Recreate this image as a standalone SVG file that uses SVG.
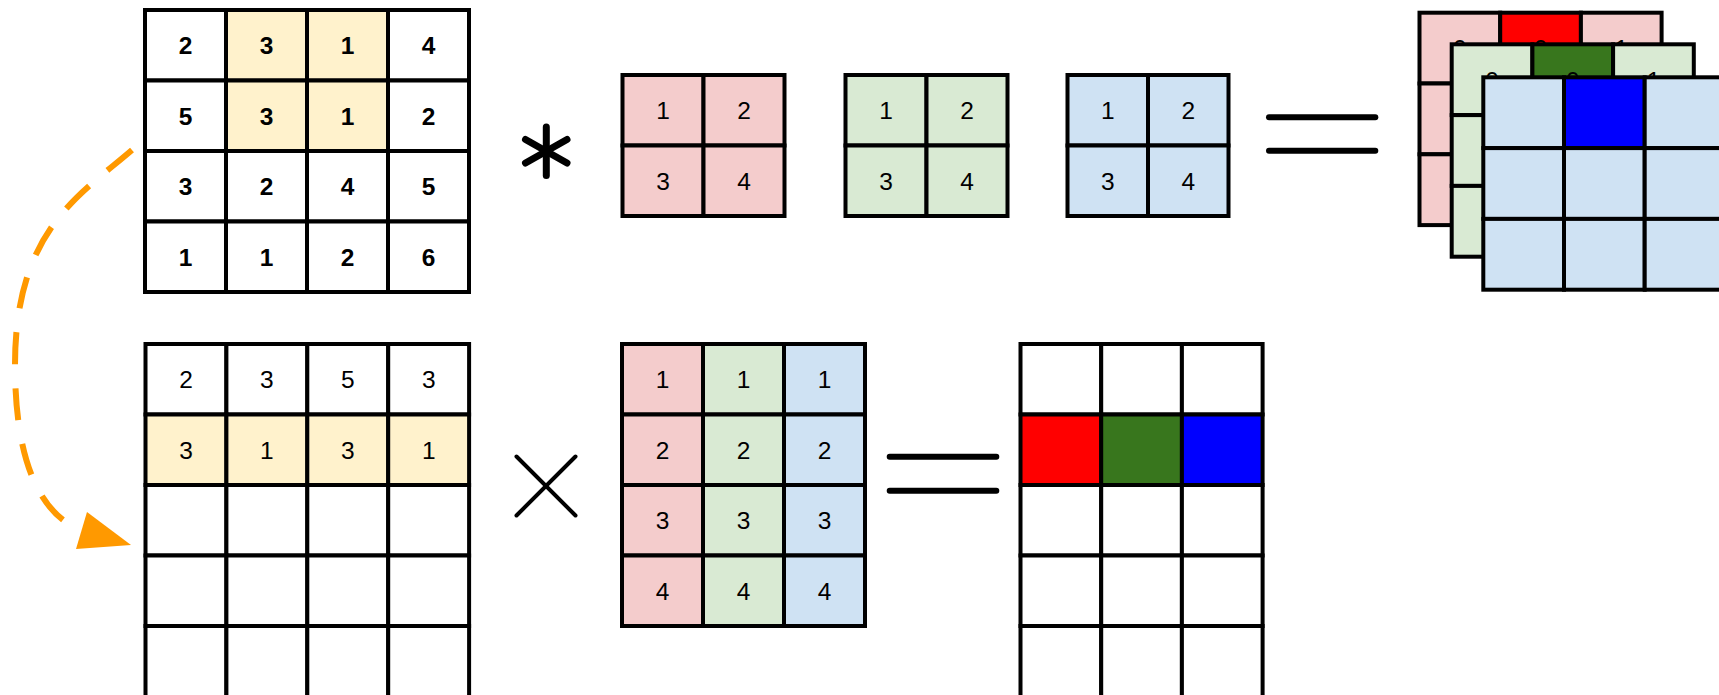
<svg xmlns="http://www.w3.org/2000/svg" width="1719" height="695" viewBox="0 0 1719 695">
<style>
g rect{stroke:#000;stroke-width:4}
.w{fill:#fff}.y{fill:#FFF2CC}.r{fill:#F4CCCC}.g{fill:#D9EAD3}.b{fill:#CFE2F3}
.R{fill:#FF0000}.G{fill:#38761D}.B{fill:#0000FF}
text{font-family:"Liberation Sans",Arial,sans-serif;font-size:24.5px;text-anchor:middle;fill:#000}
text.bd{font-weight:bold;font-size:24.5px}
.sym{stroke:#000;stroke-linecap:round;fill:none}
</style>
<rect x="0" y="0" width="1719" height="695" style="fill:#fff;stroke:none"/>

<g id="input-grid">
<rect class="w" x="145" y="10" width="81" height="70.5"/><rect class="y" x="226" y="10" width="81" height="70.5"/><rect class="y" x="307" y="10" width="81" height="70.5"/><rect class="w" x="388" y="10" width="81" height="70.5"/>
<rect class="w" x="145" y="80.5" width="81" height="70.5"/><rect class="y" x="226" y="80.5" width="81" height="70.5"/><rect class="y" x="307" y="80.5" width="81" height="70.5"/><rect class="w" x="388" y="80.5" width="81" height="70.5"/>
<rect class="w" x="145" y="151" width="81" height="70.5"/><rect class="w" x="226" y="151" width="81" height="70.5"/><rect class="w" x="307" y="151" width="81" height="70.5"/><rect class="w" x="388" y="151" width="81" height="70.5"/>
<rect class="w" x="145" y="221.5" width="81" height="70.5"/><rect class="w" x="226" y="221.5" width="81" height="70.5"/><rect class="w" x="307" y="221.5" width="81" height="70.5"/><rect class="w" x="388" y="221.5" width="81" height="70.5"/>
<text class="bd" x="185.5" y="54.3">2</text><text class="bd" x="266.5" y="54.3">3</text><text class="bd" x="347.5" y="54.3">1</text><text class="bd" x="428.5" y="54.3">4</text>
<text class="bd" x="185.5" y="124.8">5</text><text class="bd" x="266.5" y="124.8">3</text><text class="bd" x="347.5" y="124.8">1</text><text class="bd" x="428.5" y="124.8">2</text>
<text class="bd" x="185.5" y="195.3">3</text><text class="bd" x="266.5" y="195.3">2</text><text class="bd" x="347.5" y="195.3">4</text><text class="bd" x="428.5" y="195.3">5</text>
<text class="bd" x="185.5" y="265.8">1</text><text class="bd" x="266.5" y="265.8">1</text><text class="bd" x="347.5" y="265.8">2</text><text class="bd" x="428.5" y="265.8">6</text>
</g>

<g id="conv-symbol">
<line class="sym" stroke-width="7" x1="546.3" y1="127" x2="546.3" y2="175.5"/>
<line class="sym" stroke-width="7" x1="525.5" y1="139.5" x2="567" y2="163"/>
<line class="sym" stroke-width="7" x1="567" y1="139.5" x2="525.5" y2="163"/>
</g>

<g id="kernel-red">
<rect class="r" x="622.5" y="75" width="81" height="70.5"/><rect class="r" x="703.5" y="75" width="81" height="70.5"/>
<rect class="r" x="622.5" y="145.5" width="81" height="70.5"/><rect class="r" x="703.5" y="145.5" width="81" height="70.5"/>
<text x="663" y="119.3">1</text><text x="744" y="119.3">2</text><text x="663" y="189.8">3</text><text x="744" y="189.8">4</text>
</g>
<g id="kernel-green">
<rect class="g" x="845.5" y="75" width="81" height="70.5"/><rect class="g" x="926.5" y="75" width="81" height="70.5"/>
<rect class="g" x="845.5" y="145.5" width="81" height="70.5"/><rect class="g" x="926.5" y="145.5" width="81" height="70.5"/>
<text x="886" y="119.3">1</text><text x="967" y="119.3">2</text><text x="886" y="189.8">3</text><text x="967" y="189.8">4</text>
</g>
<g id="kernel-blue">
<rect class="b" x="1067.5" y="75" width="80.5" height="70.5"/><rect class="b" x="1148" y="75" width="80.5" height="70.5"/>
<rect class="b" x="1067.5" y="145.5" width="80.5" height="70.5"/><rect class="b" x="1148" y="145.5" width="80.5" height="70.5"/>
<text x="1107.8" y="119.3">1</text><text x="1188.3" y="119.3">2</text><text x="1107.8" y="189.8">3</text><text x="1188.3" y="189.8">4</text>
</g>

<g id="equals-top">
<line class="sym" stroke-width="6" x1="1269" y1="117.3" x2="1375.3" y2="117.3"/>
<line class="sym" stroke-width="6" x1="1269" y1="150.7" x2="1375.3" y2="150.7"/>
</g>

<g id="output-red">
<rect class="r" x="1419.5" y="12.7" width="80.7" height="70.8"/><rect class="R" x="1500.2" y="12.7" width="80.7" height="70.8"/><rect class="r" x="1580.9" y="12.7" width="80.7" height="70.8"/>
<rect class="r" x="1419.5" y="83.5" width="80.7" height="70.8"/><rect class="r" x="1500.2" y="83.5" width="80.7" height="70.8"/><rect class="r" x="1580.9" y="83.5" width="80.7" height="70.8"/>
<rect class="r" x="1419.5" y="154.3" width="80.7" height="70.8"/><rect class="r" x="1500.2" y="154.3" width="80.7" height="70.8"/><rect class="r" x="1580.9" y="154.3" width="80.7" height="70.8"/>
<text x="1459.9" y="57">0</text><text x="1540.6" y="57">0</text><text x="1621.3" y="57">1</text>
</g>
<g id="output-green">
<rect class="g" x="1451.7" y="44.3" width="80.7" height="70.8"/><rect class="G" x="1532.4" y="44.3" width="80.7" height="70.8"/><rect class="g" x="1613.1" y="44.3" width="80.7" height="70.8"/>
<rect class="g" x="1451.7" y="115.1" width="80.7" height="70.8"/><rect class="g" x="1532.4" y="115.1" width="80.7" height="70.8"/><rect class="g" x="1613.1" y="115.1" width="80.7" height="70.8"/>
<rect class="g" x="1451.7" y="185.9" width="80.7" height="70.8"/><rect class="g" x="1532.4" y="185.9" width="80.7" height="70.8"/><rect class="g" x="1613.1" y="185.9" width="80.7" height="70.8"/>
<text x="1492" y="88.7">0</text><text x="1572.8" y="88.7">0</text><text x="1653.5" y="88.7">1</text>
</g>
<g id="output-blue">
<rect class="b" x="1483.3" y="77.3" width="80.7" height="70.8"/><rect class="B" x="1564" y="77.3" width="80.7" height="70.8"/><rect class="b" x="1644.7" y="77.3" width="80.7" height="70.8"/>
<rect class="b" x="1483.3" y="148.1" width="80.7" height="70.8"/><rect class="b" x="1564" y="148.1" width="80.7" height="70.8"/><rect class="b" x="1644.7" y="148.1" width="80.7" height="70.8"/>
<rect class="b" x="1483.3" y="218.9" width="80.7" height="70.8"/><rect class="b" x="1564" y="218.9" width="80.7" height="70.8"/><rect class="b" x="1644.7" y="218.9" width="80.7" height="70.8"/>
</g>

<g id="im2col-grid">
<rect class="w" x="145.5" y="344" width="80.9" height="70.5"/><rect class="w" x="226.4" y="344" width="80.9" height="70.5"/><rect class="w" x="307.3" y="344" width="80.9" height="70.5"/><rect class="w" x="388.2" y="344" width="80.9" height="70.5"/>
<rect class="y" x="145.5" y="414.5" width="80.9" height="70.5"/><rect class="y" x="226.4" y="414.5" width="80.9" height="70.5"/><rect class="y" x="307.3" y="414.5" width="80.9" height="70.5"/><rect class="y" x="388.2" y="414.5" width="80.9" height="70.5"/>
<rect class="w" x="145.5" y="485" width="80.9" height="70.5"/><rect class="w" x="226.4" y="485" width="80.9" height="70.5"/><rect class="w" x="307.3" y="485" width="80.9" height="70.5"/><rect class="w" x="388.2" y="485" width="80.9" height="70.5"/>
<rect class="w" x="145.5" y="555.5" width="80.9" height="70.5"/><rect class="w" x="226.4" y="555.5" width="80.9" height="70.5"/><rect class="w" x="307.3" y="555.5" width="80.9" height="70.5"/><rect class="w" x="388.2" y="555.5" width="80.9" height="70.5"/>
<rect class="w" x="145.5" y="626" width="80.9" height="73"/><rect class="w" x="226.4" y="626" width="80.9" height="73"/><rect class="w" x="307.3" y="626" width="80.9" height="73"/><rect class="w" x="388.2" y="626" width="80.9" height="73"/>
<text x="186" y="388.3">2</text><text x="266.9" y="388.3">3</text><text x="347.8" y="388.3">5</text><text x="428.7" y="388.3">3</text>
<text x="186" y="458.8">3</text><text x="266.9" y="458.8">1</text><text x="347.8" y="458.8">3</text><text x="428.7" y="458.8">1</text>
</g>

<g id="times-symbol">
<line class="sym" stroke-width="4" x1="516.5" y1="456.5" x2="575.5" y2="515.5"/>
<line class="sym" stroke-width="4" x1="575.5" y1="456.5" x2="516.5" y2="515.5"/>
</g>

<g id="kernel-matrix">
<rect class="r" x="622" y="344" width="81" height="70.5"/><rect class="g" x="703" y="344" width="81" height="70.5"/><rect class="b" x="784" y="344" width="81" height="70.5"/>
<rect class="r" x="622" y="414.5" width="81" height="70.5"/><rect class="g" x="703" y="414.5" width="81" height="70.5"/><rect class="b" x="784" y="414.5" width="81" height="70.5"/>
<rect class="r" x="622" y="485" width="81" height="70.5"/><rect class="g" x="703" y="485" width="81" height="70.5"/><rect class="b" x="784" y="485" width="81" height="70.5"/>
<rect class="r" x="622" y="555.5" width="81" height="70.5"/><rect class="g" x="703" y="555.5" width="81" height="70.5"/><rect class="b" x="784" y="555.5" width="81" height="70.5"/>
<text x="662.5" y="388.3">1</text><text x="743.5" y="388.3">1</text><text x="824.5" y="388.3">1</text>
<text x="662.5" y="458.8">2</text><text x="743.5" y="458.8">2</text><text x="824.5" y="458.8">2</text>
<text x="662.5" y="529.3">3</text><text x="743.5" y="529.3">3</text><text x="824.5" y="529.3">3</text>
<text x="662.5" y="599.8">4</text><text x="743.5" y="599.8">4</text><text x="824.5" y="599.8">4</text>
</g>

<g id="equals-bottom">
<line class="sym" stroke-width="6" x1="889.7" y1="456.7" x2="996.3" y2="456.7"/>
<line class="sym" stroke-width="6" x1="889.7" y1="490.7" x2="996.3" y2="490.7"/>
</g>

<g id="result-matrix">
<rect class="w" x="1020.5" y="344" width="80.7" height="70.5"/><rect class="w" x="1101.2" y="344" width="80.7" height="70.5"/><rect class="w" x="1181.9" y="344" width="80.7" height="70.5"/>
<rect class="R" x="1020.5" y="414.5" width="80.7" height="70.5"/><rect class="G" x="1101.2" y="414.5" width="80.7" height="70.5"/><rect class="B" x="1181.9" y="414.5" width="80.7" height="70.5"/>
<rect class="w" x="1020.5" y="485" width="80.7" height="70.5"/><rect class="w" x="1101.2" y="485" width="80.7" height="70.5"/><rect class="w" x="1181.9" y="485" width="80.7" height="70.5"/>
<rect class="w" x="1020.5" y="555.5" width="80.7" height="70.5"/><rect class="w" x="1101.2" y="555.5" width="80.7" height="70.5"/><rect class="w" x="1181.9" y="555.5" width="80.7" height="70.5"/>
<rect class="w" x="1020.5" y="626" width="80.7" height="73"/><rect class="w" x="1101.2" y="626" width="80.7" height="73"/><rect class="w" x="1181.9" y="626" width="80.7" height="73"/>
</g>

<g id="connectors">
<path d="M 132 150 C 80 195, 15 230, 15 365 C 15 440, 30 510, 82 531" fill="none" stroke="#FF9900" stroke-width="6" stroke-dasharray="32 24"/>
<polygon points="87,512 76,549 131,545" fill="#FF9900"/>
</g>
</svg>
